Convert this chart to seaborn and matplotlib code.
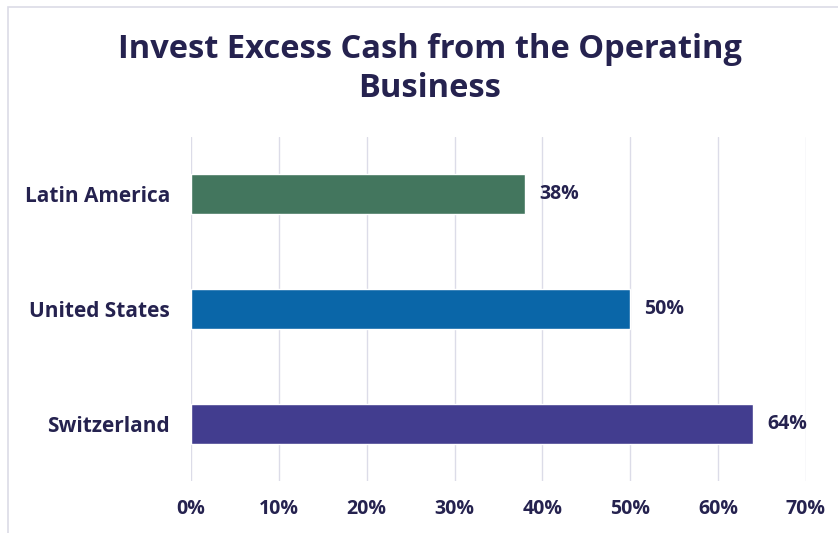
import matplotlib
matplotlib.use("Agg")
import matplotlib.pyplot as plt
import seaborn as sns
import pandas as pd
from matplotlib.patches import Rectangle

# Data
regions = ["Latin America", "United States", "Switzerland"]
shares = [38, 50, 64]
bar_colors = ["#43765e", "#0a66a8", "#423d8f"]
x_ticks = [0, 10, 20, 30, 40, 50, 60, 70]
x_tick_labels = [f"{t}%" for t in x_ticks]
title = "Invest Excess Cash from the Operating\nBusiness"

navy = "#25224f"
grid_color = "#dcdce8"

sns.set_theme(style="white")
plt.rcParams["font.family"] = ["Open Sans", "DejaVu Sans"]

df = pd.DataFrame({"region": regions, "share": shares})

fig = plt.figure(figsize=(8.38, 5.33), dpi=100)
fig.patch.set_facecolor("white")

# light frame around the chart card (only the top and left edges fall inside)
fig.patches.append(Rectangle((8 / 838, -0.1), 1.2, 1.1 - 7 / 533, transform=fig.transFigure,
                             fill=False, edgecolor="#dcdce6", linewidth=1.2, zorder=0))

ax = fig.add_axes([191 / 838, 1 - 481 / 533, (806 - 191) / 838, (481 - 137) / 533])

sns.barplot(data=df, x="share", y="region", hue="region", palette=bar_colors,
            order=regions, hue_order=regions, legend=False, width=0.35,
            saturation=1, ax=ax, zorder=3)

ax.set_xlim(0, 70)
ax.set_ylim(2.5, -0.5)
ax.set_xticks(x_ticks)
ax.set_xticklabels(x_tick_labels)
ax.set_xlabel("")
ax.set_ylabel("")
ax.grid(axis="x", color=grid_color, linewidth=1.0, zorder=0)
ax.grid(axis="y", visible=False)
for s in ax.spines.values():
    s.set_visible(False)

ax.tick_params(axis="x", length=0, pad=13, labelsize=14, labelcolor=navy)
ax.tick_params(axis="y", length=0, pad=15, labelsize=15, labelcolor=navy)
for lbl in ax.get_xticklabels() + ax.get_yticklabels():
    lbl.set_fontweight("bold")

for i, v in enumerate(shares):
    ax.text(v + 1.6, i, f"{v}%", va="center", ha="left", fontsize=14,
            fontweight="bold", color=navy)

fig.text(430 / 838, 1 - 69 / 533, title, ha="center", va="center", fontsize=23.5,
         fontweight="bold", color=navy, linespacing=1.22)

fig.savefig("out.png", dpi=100, facecolor="white")
